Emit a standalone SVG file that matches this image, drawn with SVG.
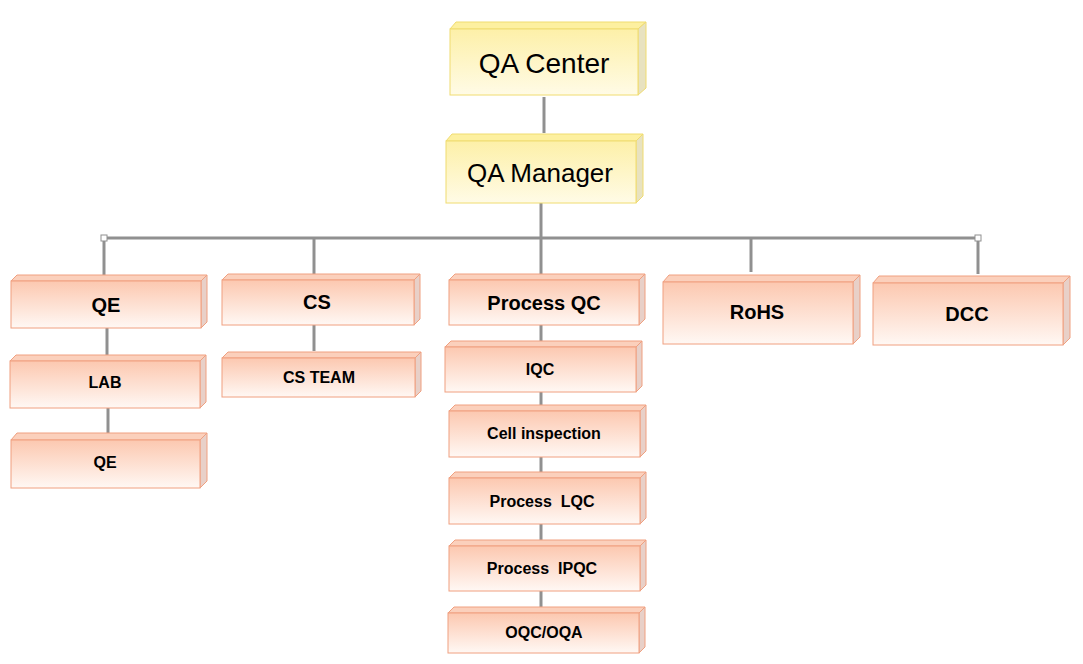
<svg xmlns="http://www.w3.org/2000/svg" width="1083" height="664" viewBox="0 0 1083 664">
<defs>
<linearGradient id="go" x1="0" y1="0" x2="0" y2="1"><stop offset="0" stop-color="#fcc8b0"/><stop offset="1" stop-color="#fff8f4"/></linearGradient>
<linearGradient id="gy" x1="0" y1="0" x2="0" y2="1"><stop offset="0" stop-color="#fdf0a8"/><stop offset="1" stop-color="#fffbe6"/></linearGradient>
<g id="n"/>
</defs>
<style>
.o .f{fill:url(#go);stroke:#f0a080;stroke-width:1}
.o .t{fill:#fbd0bc;stroke:#f0a080;stroke-width:1}
.o .s{fill:#e8d0c8;stroke:#f0a080;stroke-width:1}
.y .f{fill:url(#gy);stroke:#f0dc70;stroke-width:1}
.y .t{fill:#fdf0a0;stroke:#f0dc70;stroke-width:1}
.y .s{fill:#e8e2c0;stroke:#f0dc70;stroke-width:1}
text{font-family:"Liberation Sans",Arial,sans-serif;text-anchor:middle;fill:#000}
.b{font-weight:bold}
.c line{stroke:#909090;stroke-width:3}
</style>
<rect width="1083" height="664" fill="#fff"/>
<g class="c">
<line x1="544" y1="97" x2="544" y2="133"/>
<line x1="541" y1="203" x2="541" y2="238"/>
<line x1="104" y1="238" x2="978" y2="238"/>
<line x1="104" y1="238" x2="104" y2="275"/>
<line x1="314" y1="238" x2="314" y2="274"/>
<line x1="541" y1="238" x2="541" y2="274"/>
<line x1="751" y1="238" x2="751" y2="272"/>
<line x1="978" y1="238" x2="978" y2="274"/>
<line x1="107" y1="328" x2="107" y2="356"/>
<line x1="108" y1="408" x2="108" y2="434"/>
<line x1="314" y1="325" x2="314" y2="351"/>
<line x1="541" y1="325" x2="541" y2="341"/>
<line x1="541" y1="392" x2="541" y2="405"/>
<line x1="541" y1="457" x2="541" y2="472"/>
<line x1="541" y1="524" x2="541" y2="540"/>
<line x1="541" y1="591" x2="541" y2="607"/>
<rect x="101" y="235" width="6" height="6" fill="#fff" stroke="#909090" stroke-width="1"/>
<rect x="975" y="235" width="6" height="6" fill="#fff" stroke="#909090" stroke-width="1"/>
</g>
<g id="qacenter" class="y"><polygon class="t" points="450,29 456,22 646,22 638,29"/><polygon class="s" points="638,29 646,22 646,88 638,95"/><rect class="f" x="450" y="29" width="188" height="66"/><text x="544" y="73" font-size="28">QA Center</text></g>
<g id="qamanager" class="y"><polygon class="t" points="446,141 452,134 643,134 636,141"/><polygon class="s" points="636,141 643,134 643,196 636,203"/><rect class="f" x="446" y="141" width="190" height="62"/><text x="540" y="182" font-size="26">QA Manager</text></g>
<g id="qe" class="o"><polygon class="t" points="11,281 17,275 207,275 201,281"/><polygon class="s" points="201,281 207,275 207,322 201,328"/><rect class="f" x="11" y="281" width="190" height="47"/><text x="106" y="312" font-size="20" class="b">QE</text></g>
<g id="cs" class="o"><polygon class="t" points="222,280 228,274 420,274 414,280"/><polygon class="s" points="414,280 420,274 420,319 414,325"/><rect class="f" x="222" y="280" width="192" height="45"/><text x="317" y="309" font-size="20" class="b">CS</text></g>
<g id="processqc" class="o"><polygon class="t" points="449,280 455,274 645,274 639,280"/><polygon class="s" points="639,280 645,274 645,319 639,325"/><rect class="f" x="449" y="280" width="190" height="45"/><text x="544" y="310" font-size="20" class="b">Process QC</text></g>
<g id="rohs" class="o"><polygon class="t" points="663,282 669,275 860,275 853,282"/><polygon class="s" points="853,282 860,275 860,337 853,344"/><rect class="f" x="663" y="282" width="190" height="62"/><text x="757" y="319" font-size="20" class="b">RoHS</text></g>
<g id="dcc" class="o"><polygon class="t" points="873,283 879,276 1070,276 1063,283"/><polygon class="s" points="1063,283 1070,276 1070,338 1063,345"/><rect class="f" x="873" y="283" width="190" height="62"/><text x="967" y="321" font-size="20" class="b">DCC</text></g>
<g id="lab" class="o"><polygon class="t" points="10,361 16,355 206,355 200,361"/><polygon class="s" points="200,361 206,355 206,402 200,408"/><rect class="f" x="10" y="361" width="190" height="47"/><text x="105" y="388" font-size="16" class="b">LAB</text></g>
<g id="qe2" class="o"><polygon class="t" points="11,440 17,433 207,433 200,440"/><polygon class="s" points="200,440 207,433 207,481 200,488"/><rect class="f" x="11" y="440" width="189" height="48"/><text x="105" y="468" font-size="16" class="b">QE</text></g>
<g id="csteam" class="o"><polygon class="t" points="222,358 228,352 421,352 415,358"/><polygon class="s" points="415,358 421,352 421,391 415,397"/><rect class="f" x="222" y="358" width="193" height="39"/><text x="319" y="383" font-size="16" class="b">CS TEAM</text></g>
<g id="iqc" class="o"><polygon class="t" points="445,347 451,341 642,341 636,347"/><polygon class="s" points="636,347 642,341 642,386 636,392"/><rect class="f" x="445" y="347" width="191" height="45"/><text x="540" y="375" font-size="16" class="b">IQC</text></g>
<g id="cell" class="o"><polygon class="t" points="449,411 455,405 646,405 640,411"/><polygon class="s" points="640,411 646,405 646,451 640,457"/><rect class="f" x="449" y="411" width="191" height="46"/><text x="544" y="439" font-size="16" class="b">Cell inspection</text></g>
<g id="lqc" class="o"><polygon class="t" points="449,478 455,472 646,472 640,478"/><polygon class="s" points="640,478 646,472 646,518 640,524"/><rect class="f" x="449" y="478" width="191" height="46"/><text x="542" y="507" font-size="16" class="b" xml:space="preserve">Process  LQC</text></g>
<g id="ipqc" class="o"><polygon class="t" points="449,546 455,540 646,540 640,546"/><polygon class="s" points="640,546 646,540 646,585 640,591"/><rect class="f" x="449" y="546" width="191" height="45"/><text x="542" y="574" font-size="16" class="b" xml:space="preserve">Process  IPQC</text></g>
<g id="oqc" class="o"><polygon class="t" points="448,613 454,607 645,607 639,613"/><polygon class="s" points="639,613 645,607 645,647 639,653"/><rect class="f" x="448" y="613" width="191" height="40"/><text x="544" y="638" font-size="16" class="b">OQC/OQA</text></g>
</svg>
